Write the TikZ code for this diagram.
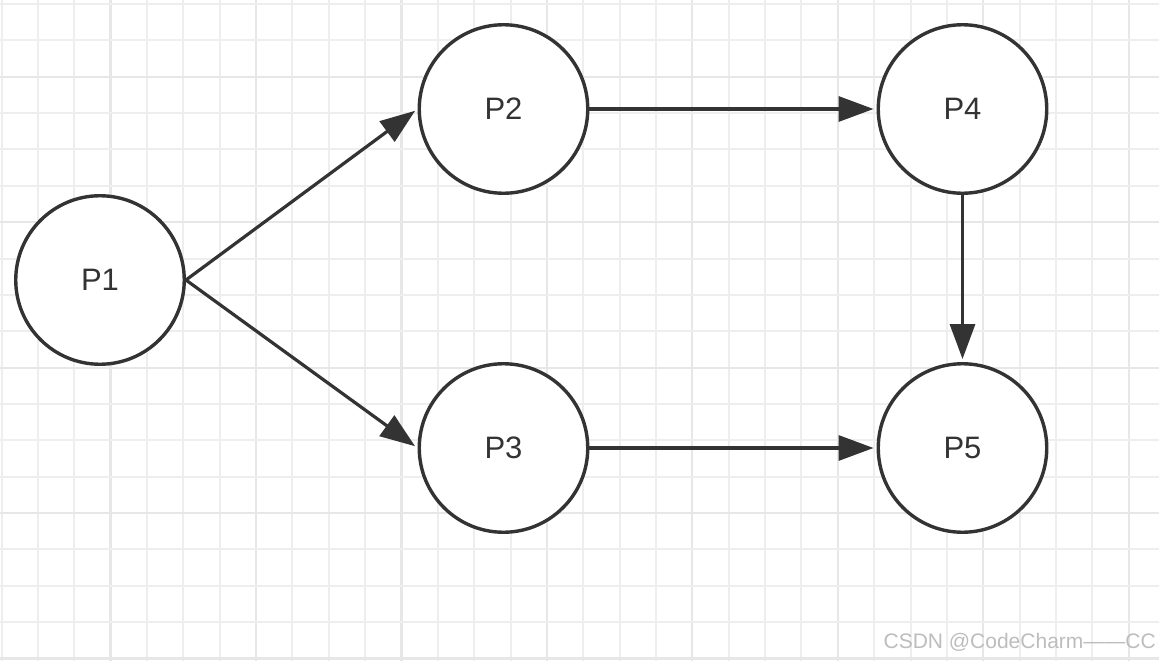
\documentclass[tikz,border=0pt]{standalone}
\usepackage{fontspec}
\setmainfont{Liberation Sans}
\usetikzlibrary{arrows.meta}
\definecolor{ink}{HTML}{333333}
\definecolor{gridminor}{HTML}{EEEEEE}
\definecolor{gridmajor}{HTML}{E7E7E7}
\definecolor{wm}{HTML}{BDBDBD}
\tikzset{
  proc/.style={circle,draw=ink,line width=3.4pt,minimum size=168.5pt,inner sep=0pt,fill=white,
    text=ink,font=\fontsize{31}{36}\selectfont},
  flow/.style={draw=ink,line width=3.2pt,-{Triangle[length=35pt,width=25pt]},shorten >=3pt},
  minorline/.style={draw=gridminor,line width=2pt},
  majorline/.style={draw=gridmajor,line width=2.2pt}
}
\begin{document}
\begin{tikzpicture}[x=1pt,y=-1pt]
\useasboundingbox (0,0) rectangle (1159,661);
\fill[white] (0,0) rectangle (1159,661);
% grid
\foreach \k in {0,...,31}{
  \pgfmathsetmacro{\xx}{1.5+36.36*\k}
  \pgfmathtruncatemacro{\m}{mod(\k,4)}
  \ifnum\m=3
    \draw[majorline] (\xx,0) -- (\xx,661);
  \else
    \draw[minorline] (\xx,0) -- (\xx,661);
  \fi
}
\foreach \k in {0,...,18}{
  \pgfmathsetmacro{\yy}{4+36.36*\k}
  \pgfmathtruncatemacro{\m}{mod(\k,4)}
  \ifnum\m=2
    \draw[majorline] (0,\yy) -- (1159,\yy);
  \else
    \draw[minorline] (0,\yy) -- (1159,\yy);
  \fi
}
% nodes
\node[proc] (P1) at (100,280) {P1};
\node[proc] (P2) at (503.5,109) {P2};
\node[proc] (P3) at (503.5,448) {P3};
\node[proc] (P4) at (962.5,109) {P4};
\node[proc] (P5) at (962.5,448) {P5};
% connectors
\draw[flow] (P1.east) -- (P2.west);
\draw[flow] (P1.east) -- (P3.west);
\draw[flow] (P2.east) -- (P4.west);
\draw[flow] (P3.east) -- (P5.west);
\draw[flow] (P4.south) -- (P5.north);
% watermark
\node[anchor=base east,inner sep=0pt,text=wm,font=\fontsize{21}{24}\selectfont] (wmk) at (1156,648) {CSDN @CodeCharm——CC};
\end{tikzpicture}
\end{document}
